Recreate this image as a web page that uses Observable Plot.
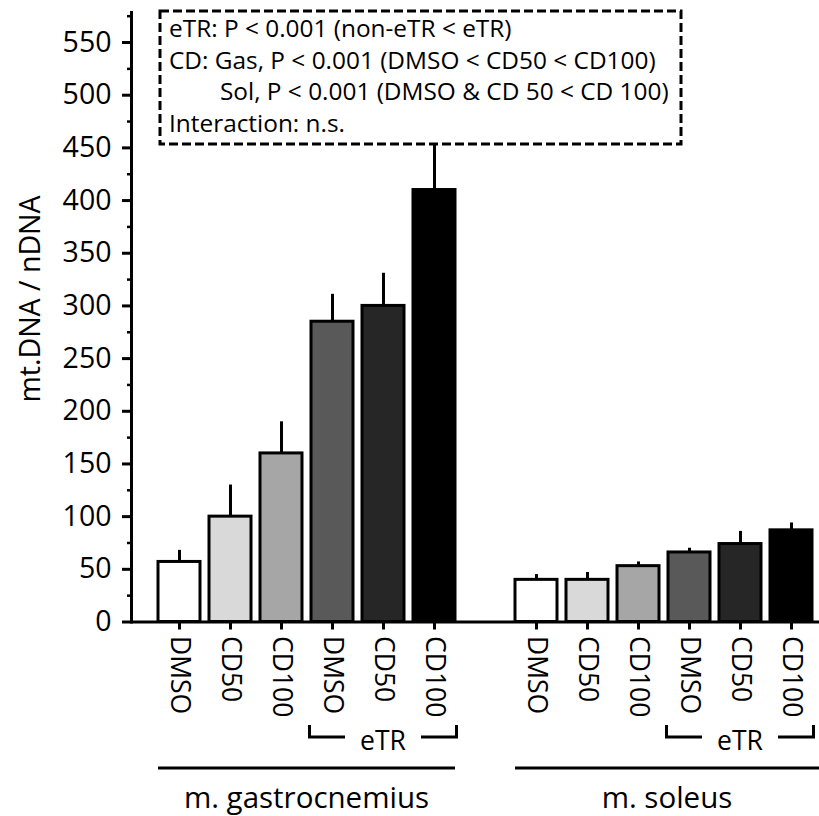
<!DOCTYPE html>
<html>
<head>
<meta charset="utf-8">
<script src="https://cdn.jsdelivr.net/npm/d3@7"></script>
<script src="https://cdn.jsdelivr.net/npm/@observablehq/plot@0.6"></script>
<style>
  html, body { margin: 0; padding: 0; background: #fff; }
  svg { display: block; }
</style>
</head>
<body>
<div id="chart"></div>
<script>
// ---- data ----
const muscles = ["m. gastrocnemius", "m. soleus"];
const muscleKeys = ["G", "S"];
const treatments = ["DMSO", "CD50", "CD100", "DMSO", "CD50", "CD100"];
const trained = [false, false, false, true, true, true];
const fills = ["#ffffff", "#d9d9d9", "#a6a6a6", "#595959", "#262626", "#000000"];
const gasMean = [57, 100, 160, 285, 300, 410];
const gasUpper = [68, 130, 190, 311, 331, 470];
const solMean = [40, 40, 53, 66, 74, 87];
const solUpper = [45, 47, 57, 70, 86, 94];
const yTicks = [0, 50, 100, 150, 200, 250, 300, 350, 400, 450, 500, 550];
const yMinorTicks = [25, 75, 125, 175, 225, 275, 325, 375, 425, 475, 525, 575];
const statLines = [
  "eTR: P < 0.001 (non-eTR < eTR)",
  "CD: Gas, P < 0.001 (DMSO < CD50 < CD100)",
  "Sol, P < 0.001 (DMSO & CD 50 < CD 100)",
  "Interaction: n.s."
];
const yLabel = "mt.DNA / nDNA";
const groupLabel = "eTR";

// ---- table ----
const rows = [];
[gasMean, solMean].forEach((means, m) => {
  const uppers = m === 0 ? gasUpper : solUpper;
  means.forEach((v, i) => rows.push({
    key: muscleKeys[m] + i, muscle: muscles[m], treatment: treatments[i],
    trained: trained[i], fill: fills[i], mean: v, upper: uppers[i]
  }));
});
const domain = [...rows.filter(r => r.key[0] === "G").map(r => r.key), "gap",
                ...rows.filter(r => r.key[0] === "S").map(r => r.key)];
const labelOf = new Map(rows.map(r => [r.key, r.treatment]));

const W = 819, H = 816;
const font = "Open Sans";

const plot = Plot.plot({
  width: W, height: H,
  marginLeft: 131, marginRight: 0, marginTop: 12, marginBottom: 194.5,
  style: { fontFamily: font, fontSize: "26px", color: "black", background: "white" },
  x: { domain, range: [153.5, 816.5], paddingInner: 0.168, paddingOuter: 0, axis: null },
  y: { domain: [0, 578.5], axis: null },
  marks: [
    Plot.axisY({ ticks: yMinorTicks, tickSize: 4, text: null, strokeWidth: 2.5 }),
    Plot.axisY({ ticks: yTicks, tickSize: 9, tickPadding: 11, strokeWidth: 3, fontSize: 28.5, label: null }),
    Plot.frame({ anchor: "left", strokeWidth: 3 }),
    Plot.axisX({ ticks: domain.filter(d => d !== "gap"), tickSize: 8, tickPadding: 6, tickRotate: 90,
                 tickFormat: d => labelOf.get(d), fontSize: 26.5, strokeWidth: 3, label: null }),
    Plot.ruleY([0], { strokeWidth: 3 }),
    Plot.ruleX(rows, { x: "key", y1: "mean", y2: "upper", strokeWidth: 3 }),
    Plot.barY(rows, { x: "key", y: "mean", fill: "fill", stroke: "black", strokeWidth: 3 })
  ]
});

document.getElementById("chart").appendChild(plot);

// ---- annotations (positions from scales) ----
const xs = plot.scale("x");
const bw = xs.bandwidth;
const svg = d3.select(plot);
const g = svg.append("g").attr("fill", "none").attr("stroke", "black").attr("stroke-width", 3);
const txt = svg.append("g").attr("font-family", font).attr("fill", "black").attr("text-anchor", "start");

// y label
txt.append("text").attr("transform", "translate(40,299) rotate(-90)")
  .attr("text-anchor", "middle").attr("font-size", 28.5).text(yLabel);

muscleKeys.forEach((mk, m) => {
  const keys = rows.filter(r => r.key[0] === mk);
  const tk = keys.filter(r => r.trained);
  const bx1 = xs.apply(tk[0].key) - 1.5;
  const bx2 = Math.min(xs.apply(tk[tk.length - 1].key) + bw + 1.5, W - 1.5);
  const mid = (bx1 + bx2) / 2;
  const half = 38;
  g.append("path").attr("d", `M${bx1},725V737H${mid - half}`);
  g.append("path").attr("d", `M${mid + half},737H${bx2}V725`);
  txt.append("text").attr("x", mid).attr("y", 750).attr("text-anchor", "middle")
    .attr("font-size", 26.5).text(groupLabel);
  const gx1 = xs.apply(keys[0].key);
  const gx2 = m === 1 ? W : xs.apply(keys[keys.length - 1].key) + bw;
  g.append("line").attr("x1", gx1).attr("x2", gx2).attr("y1", 768).attr("y2", 768);
  txt.append("text").attr("x", (gx1 + gx2) / 2).attr("y", 808).attr("text-anchor", "middle")
    .attr("font-size", 29.5).text(muscles[m]);
});

// stats box
svg.append("rect").attr("x", 160).attr("y", 11).attr("width", 521).attr("height", 133)
  .attr("fill", "white").attr("stroke", "black").attr("stroke-width", 3)
  .attr("stroke-dasharray", "9,4");
const box = svg.append("g").attr("font-family", font).attr("fill", "black").attr("text-anchor", "start");
const lineX = [169, 169, 220, 169];
const lineY = [37, 69, 100, 132];
statLines.forEach((s, i) => {
  box.append("text").attr("x", lineX[i]).attr("y", lineY[i]).attr("font-size", 24.4).text(s);
});
</script>
</body>
</html>
